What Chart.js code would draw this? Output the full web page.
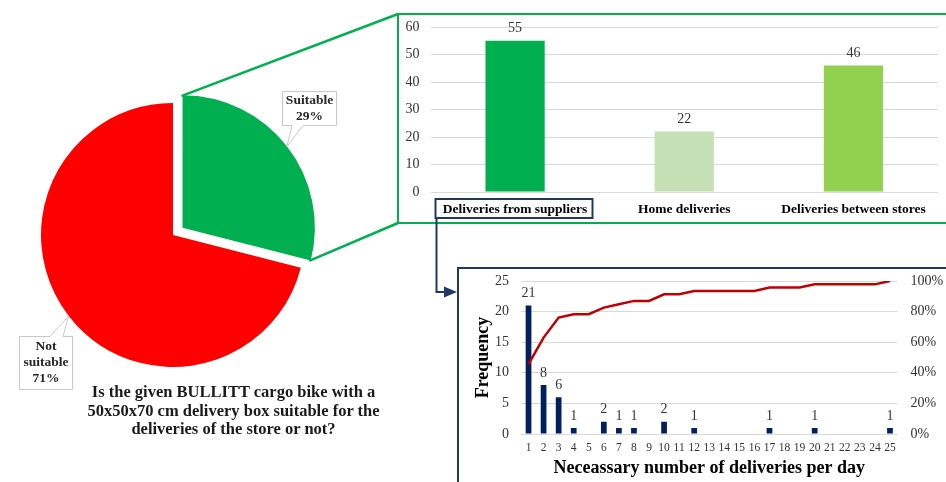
<!DOCTYPE html>
<html><head><meta charset="utf-8">
<script src="https://cdn.jsdelivr.net/npm/chart.js@4.4.0/dist/chart.umd.min.js"></script>
<style>
html,body{margin:0;padding:0;background:#fff;}
#stage{position:relative;width:946px;height:482px;overflow:hidden;background:#fff;}
canvas{position:absolute;display:block;}
.frame{position:absolute;box-sizing:border-box;}
#title{position:absolute;left:33.5px;width:400px;top:383px;text-align:center;white-space:nowrap;font-family:'Liberation Serif',serif;font-weight:bold;font-size:16.5px;line-height:18.5px;color:#1a1a1a;}
</style></head><body>
<div id="stage">
 <div class="frame" id="gframe" style="left:397px;top:13px;width:620px;height:211px;border:2px solid #00B050;"></div>
 <div class="frame" id="nframe" style="left:457px;top:267px;width:620px;height:300px;border:2px solid #1F3864;"></div>
 <canvas id="pie" width="346" height="470" style="left:0;top:0"></canvas>
 <canvas id="bar" width="546" height="205" style="left:400px;top:16px"></canvas>
 <canvas id="hist" width="486" height="212" style="left:460px;top:270px"></canvas>
 <canvas id="over" width="946" height="482" style="left:0;top:0"></canvas>
 <div id="title">Is the given BULLITT cargo bike with a<br>50x50x70 cm delivery box suitable for the<br>deliveries of the store or not?</div>
</div>
<script>
// ---- data ----
const pieLabels = ['Suitable', 'Not suitable'];
const pieValues = [29, 71];

const deliveryTypes = ['Deliveries from suppliers', 'Home deliveries', 'Deliveries between stores'];
const deliveryCounts = [55, 22, 46];

const deliveriesPerDay = ['1','2','3','4','5','6','7','8','9','10','11','12','13','14','15','16','17','18','19','20','21','22','23','24','25'];
const frequency = [21, 8, 6, 1, 0, 2, 1, 1, 0, 2, 0, 1, 0, 0, 0, 0, 1, 0, 0, 1, 0, 0, 0, 0, 1];
const cumulativePct = [45.7, 63.0, 76.1, 78.3, 78.3, 82.6, 84.8, 87.0, 87.0, 91.3, 91.3, 93.5, 93.5, 93.5, 93.5, 93.5, 95.7, 95.7, 95.7, 97.8, 97.8, 97.8, 97.8, 97.8, 100];

// ---- styling ----
const SERIF = "'Liberation Serif', 'Times New Roman', serif";
Chart.defaults.font.family = SERIF;
Chart.defaults.animation = false;
Chart.defaults.responsive = false;
Chart.defaults.events = [];
Chart.defaults.plugins.legend.display = false;
Chart.defaults.plugins.tooltip.enabled = false;

function fixed(w, h) {
  return function (s) {
    if (w !== null) s.width = w;
    if (h !== null) s.height = h;
    s.paddingTop = 0; s.paddingBottom = 0; s.paddingLeft = 0; s.paddingRight = 0;
  };
}

const valueLabels = {
  id: 'valueLabels',
  afterDatasetsDraw(chart, args, opts) {
    const ctx = chart.ctx;
    chart.data.datasets.forEach((ds, i) => {
      if (ds.type === 'line') return;
      const meta = chart.getDatasetMeta(i);
      ctx.save();
      ctx.font = opts.font; ctx.fillStyle = opts.color;
      ctx.textAlign = 'center'; ctx.textBaseline = 'bottom';
      meta.data.forEach((el, j) => {
        const v = ds.data[j];
        if (!v) return;
        ctx.fillText(String(v), el.x, el.y - opts.gap);
      });
      ctx.restore();
    });
  }
};

const callouts = {
  id: 'callouts',
  afterDraw(chart, args, opts) {
    const ctx = chart.ctx;
    const meta = chart.getDatasetMeta(0);
    const ds = chart.data.datasets[0];
    const total = ds.data.reduce((a, b) => a + b, 0);
    opts.boxes.forEach((b, i) => {
      const arc = meta.data[i];
      const mid = (arc.startAngle + arc.endAngle) / 2;
      const off = (arc.options.offset || 0) / 4;
      const tx = arc.x + Math.cos(mid) * (off + arc.outerRadius);
      const ty = arc.y + Math.sin(mid) * (off + arc.outerRadius);
      ctx.save();
      ctx.beginPath();
      if (b.side === 'bottom') {
        ctx.moveTo(b.x, b.y); ctx.lineTo(b.x + b.w, b.y); ctx.lineTo(b.x + b.w, b.y + b.h);
        ctx.lineTo(b.p2, b.y + b.h); ctx.lineTo(tx, ty); ctx.lineTo(b.p1, b.y + b.h);
        ctx.lineTo(b.x, b.y + b.h); ctx.closePath();
      } else {
        ctx.moveTo(b.x, b.y); ctx.lineTo(b.p1, b.y); ctx.lineTo(tx, ty); ctx.lineTo(b.p2, b.y);
        ctx.lineTo(b.x + b.w, b.y); ctx.lineTo(b.x + b.w, b.y + b.h); ctx.lineTo(b.x, b.y + b.h);
        ctx.closePath();
      }
      ctx.fillStyle = '#ffffff'; ctx.fill();
      ctx.strokeStyle = '#C8C8C8'; ctx.lineWidth = 1; ctx.stroke();
      const label = chart.data.labels[i];
      const lines = (b.wrap ? label.split(' ') : [label]);
      lines.push(Math.round(ds.data[i] / total * 100) + '%');
      ctx.font = opts.font; ctx.fillStyle = opts.color;
      ctx.textAlign = 'center'; ctx.textBaseline = 'middle';
      const cy = b.y + b.h / 2;
      lines.forEach((t, k) => {
        ctx.fillText(t, b.x + b.w / 2, cy + (k - (lines.length - 1) / 2) * opts.lineH);
      });
      ctx.restore();
    });
  }
};

// ---- pie ----
const pieChart = new Chart(document.getElementById('pie'), {
  type: 'pie',
  data: {
    labels: pieLabels,
    datasets: [{
      data: pieValues,
      backgroundColor: ['#00B050', '#FF0000'],
      borderWidth: 0,
      offset: [48, 0],
      radius: 132
    }]
  },
  options: {
    radius: 132,
    layout: { padding: 0 },
    plugins: {
      callouts: {
        font: 'bold 13.5px ' + SERIF, color: '#262626', lineH: 16,
        boxes: [
          { x: 282.5, y: 91.5, w: 54, h: 34, side: 'bottom', p1: 292, p2: 303, wrap: false },
          { x: 19.5, y: 336.5, w: 53, h: 53, side: 'top', p1: 50, p2: 63, wrap: true }
        ]
      }
    }
  },
  plugins: [callouts]
});

// ---- bar chart ----
const barChart = new Chart(document.getElementById('bar'), {
  type: 'bar',
  data: {
    labels: deliveryTypes,
    datasets: [{
      data: deliveryCounts,
      backgroundColor: ['#00B050', '#C5E0B4', '#92D050'],
      categoryPercentage: 1, barPercentage: 0.35
    }]
  },
  options: {
    layout: { padding: { top: 11, right: 8, left: 0, bottom: 0 } },
    scales: {
      x: {
        grid: { display: false, drawTicks: false }, border: { display: false },
        ticks: { font: { size: 13.5, weight: 'bold' }, color: '#000', padding: 9 },
        afterFit: fixed(null, 29)
      },
      y: {
        min: 0, max: 60,
        grid: { color: '#D9D9D9', drawTicks: false }, border: { display: false },
        ticks: { stepSize: 10, font: { size: 14 }, color: '#333', padding: 11 },
        afterFit: fixed(30.5, null)
      }
    },
    plugins: { valueLabels: { font: '14px ' + SERIF, color: '#333', gap: 5 } }
  },
  plugins: [valueLabels]
});

// ---- histogram ----
const histChart = new Chart(document.getElementById('hist'), {
  data: {
    labels: deliveriesPerDay,
    datasets: [
      {
        type: 'line', data: cumulativePct, yAxisID: 'y2', order: 0,
        borderColor: '#C00000', borderWidth: 2.5, pointRadius: 0, tension: 0, fill: false
      },
      {
        type: 'bar', data: frequency, yAxisID: 'y', order: 1,
        backgroundColor: '#002060', categoryPercentage: 1, barPercentage: 0.38
      }
    ]
  },
  options: {
    layout: { padding: { top: 11, right: 0, left: 0, bottom: 0 } },
    scales: {
      x: {
        grid: { display: false, drawTicks: false }, border: { display: false },
        ticks: { font: { size: 11.5 }, color: '#333', padding: 7, autoSkip: false, maxRotation: 0 },
        title: { display: true, text: 'Neceassary number of deliveries per day', font: { size: 18, weight: 'bold' }, color: '#000', padding: { top: 0, bottom: 3 } },
        afterFit: fixed(null, 48)
      },
      y: {
        position: 'left', min: 0, max: 25,
        grid: { color: '#D9D9D9', drawTicks: false }, border: { display: false },
        ticks: { stepSize: 5, font: { size: 14 }, color: '#333', padding: 12 },
        title: { display: true, text: 'Frequency', font: { size: 18, weight: 'bold' }, color: '#000', padding: { top: 13, bottom: 0 } },
        afterFit: fixed(61, null)
      },
      y2: {
        position: 'right', min: 0, max: 100,
        grid: { display: false, drawTicks: false }, border: { display: false },
        ticks: { stepSize: 20, font: { size: 14 }, color: '#333', padding: 13, callback: v => v + '%' },
        afterFit: fixed(48.5, null)
      }
    },
    plugins: { valueLabels: { font: '14px ' + SERIF, color: '#333', gap: 5 } }
  },
  plugins: [valueLabels]
});

// ---- connectors overlay ----
(function () {
  const ctx = document.getElementById('over').getContext('2d');
  const pos = id => { const e = document.getElementById(id); return { x: e.offsetLeft, y: e.offsetTop, w: e.offsetWidth, h: e.offsetHeight }; };
  const pc = pos('pie'), bc = pos('bar'), gf = pos('gframe'), nf = pos('nframe');

  // green lines from exploded slice to the bar-chart frame
  const arc = pieChart.getDatasetMeta(0).data[0];
  const mid = (arc.startAngle + arc.endAngle) / 2;
  const off = (arc.options.offset || 0) / 4;
  const ax = pc.x + arc.x + Math.cos(mid) * off, ay = pc.y + arc.y + Math.sin(mid) * off;
  const R = arc.outerRadius;
  const s1 = [ax + Math.cos(arc.startAngle) * R, ay + Math.sin(arc.startAngle) * R];
  const s2 = [ax + Math.cos(arc.endAngle) * R, ay + Math.sin(arc.endAngle) * R];
  ctx.strokeStyle = '#00B050'; ctx.lineWidth = 2.5; ctx.lineCap = 'round';
  ctx.beginPath(); ctx.moveTo(s1[0], s1[1]); ctx.lineTo(gf.x + 1, gf.y + 1); ctx.stroke();
  ctx.beginPath(); ctx.moveTo(s2[0], s2[1]); ctx.lineTo(gf.x + 1, gf.y + gf.h - 1); ctx.stroke();

  // navy box around first category label and arrow to histogram frame
  const xs = barChart.scales.x;
  const cx = bc.x + xs.getPixelForValue(0);
  ctx.font = 'bold 13.5px ' + SERIF;
  const tw = ctx.measureText(deliveryTypes[0]).width;
  const bx1 = Math.round(cx - tw / 2 - 7.5) + 0.5, bx2 = Math.round(cx + tw / 2 + 5) + 0.5;
  const by1 = bc.y + xs.top + 7, by2 = bc.y + xs.top + 26;
  ctx.strokeStyle = '#1F3864'; ctx.lineWidth = 2; ctx.lineCap = 'butt';
  ctx.strokeRect(bx1, by1, bx2 - bx1, by2 - by1);
  const ay2 = nf.y + 25;
  const lx = bx1 + 1;
  ctx.beginPath(); ctx.moveTo(lx, by2); ctx.lineTo(lx, ay2); ctx.lineTo(nf.x - 10, ay2); ctx.stroke();
  ctx.fillStyle = '#1F3864';
  ctx.beginPath(); ctx.moveTo(nf.x, ay2); ctx.lineTo(nf.x - 13, ay2 - 5.5); ctx.lineTo(nf.x - 13, ay2 + 5.5); ctx.closePath(); ctx.fill();
})();
</script>
</body></html>
